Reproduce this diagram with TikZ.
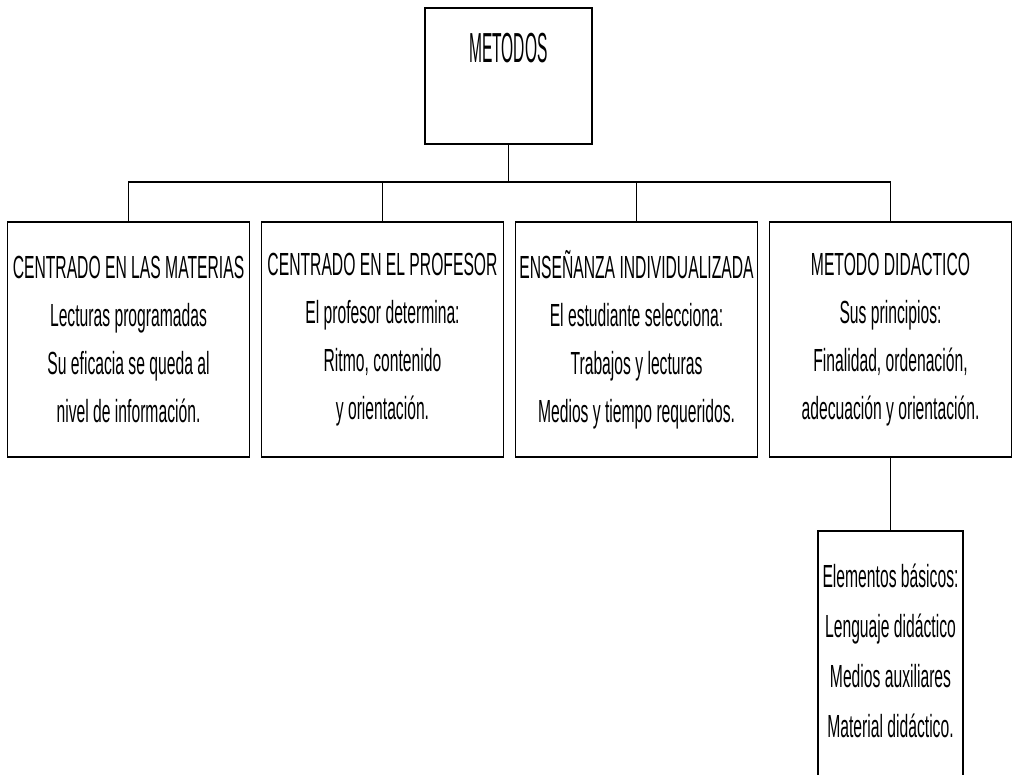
\documentclass[tikz,border=0pt]{standalone}
\usepackage{fontspec}
\setmainfont{Liberation Sans}[FakeStretch=0.49]
\newfontfamily\titlefont{Liberation Sans}[FakeStretch=0.37]
\usetikzlibrary{shapes.geometric, arrows}
\tikzstyle{titlebox} = [rectangle, minimum width=167pt, minimum height=136pt, text centered, draw=black, line width=1.3pt, font=\titlefont\fontsize{42pt}{42pt}\selectfont, text height=30pt, text depth=56pt]
\tikzstyle{method} = [rectangle, minimum width=242pt, minimum height=235pt, align=center, inner sep=2pt, draw=black, line width=1.3pt, font=\fontsize{32pt}{48pt}\selectfont]
\tikzstyle{detail} = [rectangle, minimum width=145pt, minimum height=300pt, align=center, inner sep=2pt, draw=black, line width=1.3pt, font=\fontsize{32pt}{50pt}\selectfont, text depth=60pt]
\tikzstyle{link} = [line width=1.3pt]

\begin{document}
\begin{tikzpicture}[node distance=254pt]
    \useasboundingbox (0,0) rectangle (1023pt,-775pt);
    \clip (0,0) rectangle (1023pt,-775pt);
    \node [titlebox] at (508.5pt,-76pt)					(metodos)		{METODOS};
    \node [method] at (128.5pt,-339.5pt)				(materias)		{CENTRADO EN LAS MATERIAS\\Lecturas programadas\\Su eficacia se queda al\\nivel de información.};
    \node [method, right of=materias]					(profesor)		{CENTRADO EN EL PROFESOR\\El profesor determina:\\Ritmo, contenido\\y orientación.};
    \node [method, right of=profesor]					(individual)	{ENSEÑANZA INDIVIDUALIZADA\\El estudiante selecciona:\\Trabajos y lecturas\\Medios y tiempo requeridos.};
    \node [method, right of=individual]					(didactico)		{METODO DIDACTICO\\Sus principios:\\Finalidad, ordenación,\\adecuación y orientación.};
    \node [detail, below of=didactico, node distance=341.5pt]	(elementos)	{Elementos básicos:\\Lenguaje didáctico\\Medios auxiliares\\Material didáctico.};

    \coordinate [below of=metodos, node distance=106pt]	(bus);
    \draw [link] (metodos) -- (bus);
    \foreach \m in {materias,profesor,individual,didactico}
        \draw [link] (bus) -| (\m.north);
    \draw [link] (didactico) -- (elementos);
\end{tikzpicture}
\end{document}
